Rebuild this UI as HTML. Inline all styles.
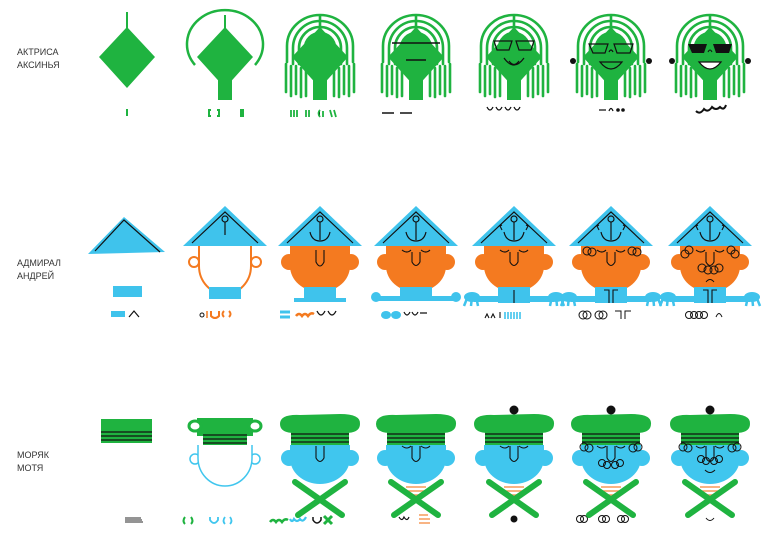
<!DOCTYPE html>
<html><head><meta charset="utf-8"><style>
html,body{margin:0;padding:0;background:#fff;width:770px;height:537px;overflow:hidden}
.lbl{font-family:"Liberation Sans",sans-serif;font-size:9px;fill:#333}
</style></head><body>
<svg width="770" height="537" viewBox="0 0 770 537" xmlns="http://www.w3.org/2000/svg">
<defs>
<g id="hair" fill="none" stroke="#1fb340" stroke-width="2.6" stroke-linecap="round">
<path d="M-15 62 L-15 48 A15 15 0 0 1 15 48 L15 62"/>
<path d="M-21 64 L-21 48 A21 21 0 0 1 21 48 L21 64"/>
<path d="M-27 64 L-27 48 A27 27 0 0 1 27 48 L27 64"/>
<path d="M-33 62 L-33 46 A33 31 0 0 1 33 46 L33 62"/>
<path d="M0 16 L0 30"/>
<path d="M-34 64 V92 M-29 66 V96 M-24 66 V94 M-19 68 V97 M-14 70 V96 M14 70 V96 M19 68 V97 M24 66 V94 M29 66 V96 M34 64 V92"/>
</g>
<g id="dia"><polygon points="0,27 28,57 0,88 -28,57" fill="#1fb340"/><rect x="-7" y="78" width="14" height="22" fill="#1fb340"/></g>
<g id="ahat"><polygon points="-42,246 0,206 42,246" fill="#3fc3ec"/><polyline points="-33,243 0,212 33,243" fill="none" stroke="#111" stroke-width="1.2"/></g>
<g id="anch" fill="none" stroke="#111" stroke-width="1.2"><circle cx="0" cy="219" r="3"/><path d="M0 222 V240 M-10 232 Q-8 241 0 241 Q8 241 10 232"/></g>
<g id="ahead"><circle cx="-31" cy="262" r="8" fill="#f47a20"/><circle cx="31" cy="262" r="8" fill="#f47a20"/><path d="M-30 246 H30 V266 A30 26 0 0 1 -30 266 Z" fill="#f47a20"/></g>
<g id="eyes" fill="none" stroke="#111" stroke-width="1.1"><path d="M-14 250 q5 4 9 0 M5 250 q5 4 9 0 M-4 252 V262 q4 7 8 0 V252"/></g>
<g id="hands" fill="#3fc3ec"><rect x="-16" y="287" width="32" height="16"/><rect x="-40" y="296" width="80" height="6"/><path d="M-46 296 l-4 10 M-42 296 l-1 10 M-38 296 l2 10 M46 296 l4 10 M42 296 l1 10 M38 296 l-2 10" stroke="#3fc3ec" stroke-width="2.5"/><ellipse cx="-42" cy="297" rx="8" ry="5"/><ellipse cx="42" cy="297" rx="8" ry="5"/></g>
<g id="beret"><path d="M-40 424 Q-40 414 -20 415 L20 414 Q41 414 40 424 Q40 433 25 433 L-25 433 Q-40 433 -40 424Z" fill="#1fb340"/><rect x="-29" y="431" width="58" height="14" fill="#1fb340"/><path d="M-29 434 H29 M-29 438 H29 M-29 442 H29" stroke="#111" stroke-width="1.2"/></g>
<g id="shead"><circle cx="-31" cy="458" r="8" fill="#40c6ee"/><circle cx="31" cy="458" r="8" fill="#40c6ee"/><path d="M-30 445 H30 V458 A30 26 0 0 1 -30 458 Z" fill="#40c6ee"/><path d="M-4 446 V458 q4 7 8 0 V446" fill="none" stroke="#111" stroke-width="1.1"/></g>
<g id="sx"><path d="M-10 487 H10 M-8 491 H8 M-6 495 H6" stroke="#f59b5c" stroke-width="1.5"/><path d="M-25 482 L22 515 M25 482 L-22 515" stroke="#1fb340" stroke-width="6" stroke-linecap="round"/></g>
</defs>

<text class="lbl" x="17" y="55">АКТРИСА</text><text class="lbl" x="17" y="68">АКСИНЬЯ</text>
<text class="lbl" x="17" y="266">АДМИРАЛ</text><text class="lbl" x="17" y="279">АНДРЕЙ</text>
<text class="lbl" x="17" y="458">МОРЯК</text><text class="lbl" x="17" y="471">МОТЯ</text>

<!-- Row 1 -->
<g transform="translate(127,0)"><path d="M0 12 V28" stroke="#1fb340" stroke-width="2"/><polygon points="0,27 28,57 0,88 -28,57" fill="#1fb340"/><path d="M0 109 V116" stroke="#1fb340" stroke-width="2"/></g>
<g transform="translate(225,0)"><path d="M-30 65 A38 34 0 1 1 30 65" fill="none" stroke="#1fb340" stroke-width="2.5"/><path d="M0 15 V28" stroke="#1fb340" stroke-width="2"/><use href="#dia"/><path d="M-14 110 h-2 v6 h2 M-8 110 h2 v6 h-2" fill="none" stroke="#1fb340" stroke-width="2"/><rect x="15" y="109" width="4" height="8" fill="#1fb340"/></g>
<g transform="translate(320,0)"><use href="#hair"/><use href="#dia"/><path d="M-29 110 v7 M-26 110 v7 M-23 110 v7 M-14 110 v7 M-11 110 v7 M0 110 q-3 3 0 7 M3 111 v6 M10 110 l2 7 M14 110 l2 7" stroke="#1fb340" stroke-width="1.8"/></g>
<g transform="translate(416,0)"><use href="#hair"/><use href="#dia"/><path d="M-24 43 H24 M-10 60 H10" stroke="#111" stroke-width="1.4"/><path d="M-34 113 H-22 M-16 113 H-4" stroke="#111" stroke-width="1.4"/></g>
<g transform="translate(514,0)"><use href="#hair"/><use href="#dia"/><path d="M-20 41 H-2 L-5 50 H-17Z M2 41 H20 L17 50 H5Z M-10 58 Q0 72 10 58 M-5 61 Q0 68 5 61" fill="none" stroke="#111" stroke-width="1.2"/><path d="M-27 107 q3 6 6 0 M-18 107 q3 6 6 0 M-9 107 q3 6 6 0 M0 107 q3 6 6 0" fill="none" stroke="#111" stroke-width="1.3"/></g>
<g transform="translate(611,0)"><use href="#hair"/><use href="#dia"/><path d="M-22 44 H-3 L-6 53 H-18Z M3 44 H22 L19 53 H6Z M-2 52 q2 -4 4 0 M-11 62 Q0 76 11 62 Z" fill="none" stroke="#111" stroke-width="1.2"/><circle cx="-38" cy="61" r="3" fill="#111"/><circle cx="38" cy="61" r="3" fill="#111"/><path d="M-12 110 H-5 M-2 111 q2 -5 4 0" fill="none" stroke="#111" stroke-width="1.3"/><circle cx="7" cy="110" r="1.8" fill="#111"/><circle cx="12" cy="110" r="1.8" fill="#111"/></g>
<g transform="translate(710,0)"><use href="#hair"/><use href="#dia"/><path d="M-22 44 H-3 L-6 53 H-18Z M3 44 H22 L19 53 H6Z" fill="#111"/><path d="M-2 52 q2 -4 4 0" fill="none" stroke="#111" stroke-width="1"/><path d="M-11 62 Q0 76 11 62 Z" fill="#fff" stroke="#111" stroke-width="1.2"/><circle cx="-38" cy="61" r="3" fill="#111"/><circle cx="38" cy="61" r="3" fill="#111"/><path d="M-14 111 q4 4 8 -2 q4 4 8 -2 q4 4 8 0 q4 4 6 -2" fill="none" stroke="#111" stroke-width="2"/></g>

<!-- Row 2 -->
<g transform="translate(127,0)"><polygon points="-39,254 -3,217 38,252" fill="#3fc3ec"/><polyline points="-32,251 -3,220 33,252" fill="none" stroke="#111" stroke-width="1.2"/><rect x="-14" y="286" width="29" height="11" fill="#3fc3ec"/><rect x="-16" y="311" width="14" height="6" fill="#3fc3ec"/><path d="M2 317 L7 311 L12 317" fill="none" stroke="#111" stroke-width="1.2"/></g>
<g transform="translate(225,0)"><circle cx="-31" cy="262" r="5" fill="none" stroke="#f47a20" stroke-width="2"/><circle cx="31" cy="262" r="5" fill="none" stroke="#f47a20" stroke-width="2"/><path d="M-26 246 V266 A26 28 0 0 0 26 266 V246" fill="#fff" stroke="#f47a20" stroke-width="2"/><use href="#ahat"/><circle cx="0" cy="219" r="3" fill="none" stroke="#111" stroke-width="1.2"/><path d="M0 222 V235" stroke="#111" stroke-width="1.2"/><rect x="-16" y="287" width="32" height="12" fill="#3fc3ec"/><circle cx="-23" cy="315" r="2" fill="none" stroke="#111"/><path d="M-18 311 V318" stroke="#f47a20" stroke-width="1.5"/><path d="M-14 311 V316 q4 4 8 0 V311 M-1 311 q-3 3 0 6 M4 311 q3 3 0 6" fill="none" stroke="#f47a20" stroke-width="2"/></g>
<g transform="translate(320,0)"><use href="#ahead"/><use href="#ahat"/><use href="#anch"/><path d="M-4 250 V262 q4 8 8 0 V250" fill="none" stroke="#111" stroke-width="1.1"/><rect x="-16" y="287" width="32" height="13" fill="#3fc3ec"/><rect x="-26" y="298" width="52" height="4" fill="#3fc3ec"/><path d="M-40 312 H-30 M-40 317 H-30" stroke="#3fc3ec" stroke-width="3"/><path d="M-24 316 q3 -4 6 0 q3 -4 6 0 q3 -4 6 -2" fill="none" stroke="#f47a20" stroke-width="2.5"/><path d="M-3 311 q4 8 8 0 M8 311 q4 8 8 0" fill="none" stroke="#111" stroke-width="1.3"/></g>
<g transform="translate(416,0)"><use href="#ahead"/><use href="#ahat"/><use href="#anch"/><use href="#eyes"/><rect x="-16" y="287" width="32" height="12" fill="#3fc3ec"/><rect x="-40" y="296" width="80" height="5" fill="#3fc3ec"/><circle cx="-40" cy="297" r="5" fill="#3fc3ec"/><circle cx="40" cy="297" r="5" fill="#3fc3ec"/><ellipse cx="-30" cy="315" rx="5" ry="4" fill="#3fc3ec"/><ellipse cx="-20" cy="315" rx="5" ry="4" fill="#3fc3ec"/><path d="M-12 312 q3 6 6 0 M-4 312 q3 6 6 0 M4 313 H11" fill="none" stroke="#111" stroke-width="1.2"/></g>
<g transform="translate(514,0)"><use href="#ahead"/><use href="#ahat"/><use href="#anch"/><path d="M-12 230 l-2 -4 2 -1 M12 230 l2 -4 -2 -1" fill="none" stroke="#111" stroke-width="1.1"/><use href="#eyes"/><use href="#hands"/><path d="M0 290 V303" stroke="#111" stroke-width="1.1"/><path d="M-29 318 l2 -4 2 4 M-23 318 l2 -4 2 4 M-14 312 V318" fill="none" stroke="#111" stroke-width="1.1"/><path d="M-9 312 V319 M-6 312 V319 M-3 312 V319 M0 312 V319 M3 312 V319 M6 312 V319" stroke="#3fc3ec" stroke-width="1.6"/></g>
<g transform="translate(611,0)"><use href="#ahead"/><use href="#ahat"/><use href="#anch"/><path d="M-12 230 l-2 -4 2 -1 M12 230 l2 -4 -2 -1" fill="none" stroke="#111" stroke-width="1.1"/><use href="#eyes"/><g fill="none" stroke="#111" stroke-width="1"><circle cx="-24" cy="251" r="4"/><circle cx="-19" cy="252" r="4"/><circle cx="21" cy="251" r="4"/><circle cx="26" cy="252" r="4"/></g><use href="#hands"/><path d="M-7 290 H-2 V303 M7 290 H2 V303" fill="none" stroke="#111" stroke-width="1.1"/><g fill="none" stroke="#111" stroke-width="1"><circle cx="-28" cy="315" r="4"/><circle cx="-24" cy="315" r="4"/><circle cx="-12" cy="315" r="4"/><circle cx="-8" cy="315" r="4"/><path d="M4 311 H10 V319 M20 311 H14 V319"/></g></g>
<g transform="translate(710,0)"><use href="#ahead"/><use href="#ahat"/><use href="#anch"/><path d="M-12 230 l-2 -4 2 -1 M12 230 l2 -4 -2 -1" fill="none" stroke="#111" stroke-width="1.1"/><use href="#eyes"/><g fill="none" stroke="#111" stroke-width="1"><circle cx="-25" cy="254" r="4"/><circle cx="-21" cy="250" r="4"/><circle cx="21" cy="250" r="4"/><circle cx="25" cy="254" r="4"/><circle cx="-8" cy="268" r="4"/><circle cx="-2" cy="270" r="4"/><circle cx="4" cy="270" r="4"/><circle cx="9" cy="268" r="4"/><path d="M-4 282 q4 -5 8 0"/></g><use href="#hands"/><path d="M-7 290 H-2 V303 M7 290 H2 V303" fill="none" stroke="#111" stroke-width="1.1"/><g fill="none" stroke="#111" stroke-width="1"><circle cx="-21" cy="315" r="3.5"/><circle cx="-16" cy="315" r="3.5"/><circle cx="-11" cy="315" r="3.5"/><circle cx="-6" cy="315" r="3.5"/><path d="M6 317 q3 -7 6 0"/></g></g>

<!-- Row 3 -->
<g transform="translate(127,0)"><rect x="-26" y="419" width="51" height="24" fill="#1fb340"/><path d="M-26 432 H25 M-26 436 H25 M-26 440 H25" stroke="#111" stroke-width="1.2"/><path d="M-2 518 H14 M-2 520 H15 M-2 522 H16" stroke="#555" stroke-width="1.3"/></g>
<g transform="translate(225,0)"><circle cx="-30" cy="459" r="5" fill="none" stroke="#40c6ee" stroke-width="1.5"/><circle cx="30" cy="459" r="5" fill="none" stroke="#40c6ee" stroke-width="1.5"/><path d="M-27 445 V458 A27 28 0 0 0 27 458 V445" fill="#fff" stroke="#40c6ee" stroke-width="1.5"/><path d="M-28 418 H28 V436 H-28Z" fill="#1fb340"/><ellipse cx="-30" cy="426" rx="6" ry="5" fill="#fff" stroke="#1fb340" stroke-width="3"/><ellipse cx="30" cy="426" rx="6" ry="5" fill="#fff" stroke="#1fb340" stroke-width="3"/><rect x="-22" y="432" width="44" height="13" fill="#1fb340"/><path d="M-22 435 H22 M-22 439 H22 M-22 443 H22" stroke="#111" stroke-width="1.2"/><path d="M-40 517 q-3 4 0 7 M-34 517 q3 4 0 7" fill="none" stroke="#1fb340" stroke-width="2"/><path d="M-15 517 V520 q4 6 8 0 V517 M0 517 q-3 4 0 7 M5 517 q3 4 0 7" fill="none" stroke="#40c6ee" stroke-width="1.8"/></g>
<g transform="translate(320,0)"><use href="#shead"/><use href="#beret"/><path d="M-25 482 L22 515 M25 482 L-22 515" stroke="#1fb340" stroke-width="6" stroke-linecap="round"/><path d="M-50 522 q3 -4 6 0 q3 -4 6 0 q3 -4 6 -2" fill="none" stroke="#1fb340" stroke-width="2.5"/><path d="M-30 519 q2 4 4 0 q3 4 6 0 q3 4 6 -2" fill="none" stroke="#40c6ee" stroke-width="2.2"/><path d="M-7 517 V520 q4 6 8 0 V517" fill="none" stroke="#111" stroke-width="1.5"/><path d="M4 516 L12 524 M12 516 L4 524" stroke="#1fb340" stroke-width="3"/></g>
<g transform="translate(416,0)"><use href="#shead"/><use href="#beret"/><path d="M-14 446 q5 4 9 0 M5 446 q5 4 9 0" fill="none" stroke="#111" stroke-width="1"/><use href="#sx"/><path d="M-17 517 q3 5 5 0 q3 5 5 0" fill="none" stroke="#111" stroke-width="1.2"/><path d="M3 515 H12 M3 519 H14 M3 523 H14" stroke="#f59b5c" stroke-width="1.5"/></g>
<g transform="translate(514,0)"><circle cx="0" cy="410" r="4.5" fill="#111"/><use href="#shead"/><use href="#beret"/><path d="M-14 446 q5 4 9 0 M5 446 q5 4 9 0" fill="none" stroke="#111" stroke-width="1"/><use href="#sx"/><circle cx="0" cy="519" r="3.5" fill="#111"/></g>
<g transform="translate(611,0)"><circle cx="0" cy="410" r="4.5" fill="#111"/><use href="#shead"/><use href="#beret"/><path d="M-14 446 q5 4 9 0 M5 446 q5 4 9 0" fill="none" stroke="#111" stroke-width="1"/><g fill="none" stroke="#111" stroke-width="1"><circle cx="-27" cy="447" r="4"/><circle cx="-22" cy="448" r="4"/><circle cx="22" cy="448" r="4"/><circle cx="27" cy="447" r="4"/><circle cx="-9" cy="463" r="3.5"/><circle cx="-4" cy="465" r="3.5"/><circle cx="4" cy="465" r="3.5"/><circle cx="9" cy="463" r="3.5"/><circle cx="-31" cy="519" r="3.5"/><circle cx="-27" cy="519" r="3.5"/><circle cx="-9" cy="519" r="3.5"/><circle cx="-5" cy="519" r="3.5"/><circle cx="10" cy="519" r="3.5"/><circle cx="14" cy="519" r="3.5"/></g><use href="#sx"/></g>
<g transform="translate(710,0)"><circle cx="0" cy="410" r="4.5" fill="#111"/><use href="#shead"/><use href="#beret"/><path d="M-14 446 q5 4 9 0 M5 446 q5 4 9 0" fill="none" stroke="#111" stroke-width="1"/><g fill="none" stroke="#111" stroke-width="1"><circle cx="-27" cy="447" r="4"/><circle cx="-22" cy="448" r="4"/><circle cx="22" cy="448" r="4"/><circle cx="27" cy="447" r="4"/><circle cx="-9" cy="459" r="3.5"/><circle cx="-4" cy="461" r="3.5"/><circle cx="4" cy="461" r="3.5"/><circle cx="9" cy="459" r="3.5"/><path d="M-5 470 q5 5 10 0"/><path d="M-4 518 q4 5 8 0"/></g><use href="#sx"/></g>
</svg>
</body></html>
